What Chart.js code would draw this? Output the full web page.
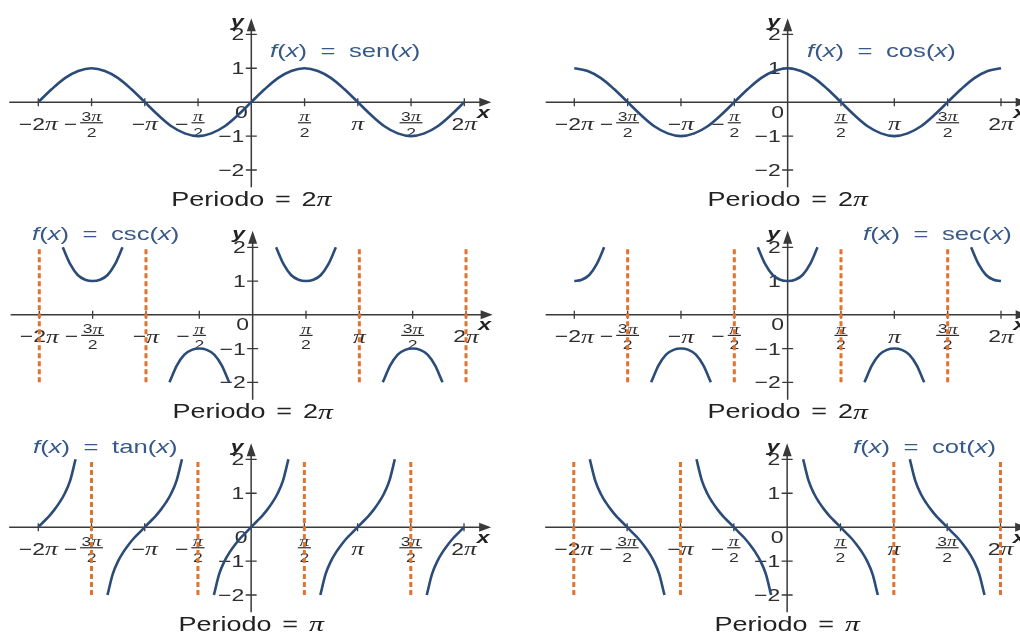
<!DOCTYPE html>
<html>
<head>
<meta charset="utf-8">
<script src="https://cdn.jsdelivr.net/npm/chart.js@4.4.1/dist/chart.umd.min.js"></script>
<style>
    html, body { margin: 0; padding: 0; background: #fff; }
    #wrap { position: relative; width: 1020px; height: 633px; overflow: hidden; }
    canvas { position: absolute; }
</style>
</head>
<body>
<div id="wrap">
    <canvas id="sinChart" width="510" height="211" style="left:0;top:0"></canvas>
    <canvas id="cosChart" width="510" height="211" style="left:510px;top:0"></canvas>
    <canvas id="cscChart" width="510" height="211" style="left:0;top:211px"></canvas>
    <canvas id="secChart" width="510" height="211" style="left:510px;top:211px"></canvas>
    <canvas id="tanChart" width="510" height="211" style="left:0;top:422px"></canvas>
    <canvas id="cotChart" width="510" height="211" style="left:510px;top:422px"></canvas>
</div>
<script>
// x values are given in multiples of pi
const xTickValues = [-2, -1.5, -1, -0.5, 0.5, 1, 1.5, 2];
const xTickLabels = ['−2π', '−3π/2', '−π', '−π/2', 'π/2', 'π', '3π/2', '2π'];
const yTickValues = [-2, -1, 1, 2];
const yTickLabels = ['−2', '−1', '1', '2'];

// sine / cosine, read every pi/8
const waveX = [-2, -1.875, -1.75, -1.625, -1.5, -1.375, -1.25, -1.125, -1, -0.875, -0.75, -0.625, -0.5, -0.375, -0.25, -0.125,
    0, 0.125, 0.25, 0.375, 0.5, 0.625, 0.75, 0.875, 1, 1.125, 1.25, 1.375, 1.5, 1.625, 1.75, 1.875, 2];
const sinY = [0, 0.38, 0.71, 0.92, 1, 0.92, 0.71, 0.38, 0, -0.38, -0.71, -0.92, -1, -0.92, -0.71, -0.38,
    0, 0.38, 0.71, 0.92, 1, 0.92, 0.71, 0.38, 0, -0.38, -0.71, -0.92, -1, -0.92, -0.71, -0.38, 0];
const cosY = [1, 0.92, 0.71, 0.38, 0, -0.38, -0.71, -0.92, -1, -0.92, -0.71, -0.38, 0, 0.38, 0.71, 0.92,
    1, 0.92, 0.71, 0.38, 0, -0.38, -0.71, -0.92, -1, -0.92, -0.71, -0.38, 0, 0.38, 0.71, 0.92, 1];

// cosecant branches (null = break)
const cscX = [-1.78, -1.71, -1.64, -1.57, -1.5, -1.43, -1.36, -1.29, -1.22, -1,
    -0.78, -0.71, -0.64, -0.57, -0.5, -0.43, -0.36, -0.29, -0.22, 0,
    0.22, 0.29, 0.36, 0.43, 0.5, 0.57, 0.64, 0.71, 0.78, 1,
    1.22, 1.29, 1.36, 1.43, 1.5, 1.57, 1.64, 1.71, 1.78];
const cscY = [2, 1.5, 1.18, 1.04, 1, 1.04, 1.18, 1.5, 2, null,
    -2, -1.5, -1.18, -1.04, -1, -1.04, -1.18, -1.5, -2, null,
    2, 1.5, 1.18, 1.04, 1, 1.04, 1.18, 1.5, 2, null,
    -2, -1.5, -1.18, -1.04, -1, -1.04, -1.18, -1.5, -2];
const cscAsym = [-2, -1, 1, 2];

// secant branches
const secX = [-2, -1.93, -1.86, -1.79, -1.72, -1.5,
    -1.28, -1.21, -1.14, -1.07, -1, -0.93, -0.86, -0.79, -0.72, -0.5,
    -0.28, -0.21, -0.14, -0.07, 0, 0.07, 0.14, 0.21, 0.28, 0.5,
    0.72, 0.79, 0.86, 0.93, 1, 1.07, 1.14, 1.21, 1.28, 1.5,
    1.72, 1.79, 1.86, 1.93, 2];
const secY = [1, 1.04, 1.18, 1.5, 2, null,
    -2, -1.5, -1.18, -1.04, -1, -1.04, -1.18, -1.5, -2, null,
    2, 1.5, 1.18, 1.04, 1, 1.04, 1.18, 1.5, 2, null,
    -2, -1.5, -1.18, -1.04, -1, -1.04, -1.18, -1.5, -2, null,
    2, 1.5, 1.18, 1.04, 1];
const secAsym = [-1.5, -0.5, 0.5, 1.5];

// tangent branches
const tanX = [-2, -1.95, -1.9, -1.85, -1.8, -1.75, -1.7, -1.65, -1.5,
    -1.35, -1.3, -1.25, -1.2, -1.15, -1.1, -1.05, -1, -0.95, -0.9, -0.85, -0.8, -0.75, -0.7, -0.65, -0.5,
    -0.35, -0.3, -0.25, -0.2, -0.15, -0.1, -0.05, 0, 0.05, 0.1, 0.15, 0.2, 0.25, 0.3, 0.35, 0.5,
    0.65, 0.7, 0.75, 0.8, 0.85, 0.9, 0.95, 1, 1.05, 1.1, 1.15, 1.2, 1.25, 1.3, 1.35, 1.5,
    1.65, 1.7, 1.75, 1.8, 1.85, 1.9, 1.95, 2];
const tanY = [0, 0.16, 0.32, 0.51, 0.73, 1, 1.38, 2, null,
    -2, -1.38, -1, -0.73, -0.51, -0.32, -0.16, 0, 0.16, 0.32, 0.51, 0.73, 1, 1.38, 2, null,
    -2, -1.38, -1, -0.73, -0.51, -0.32, -0.16, 0, 0.16, 0.32, 0.51, 0.73, 1, 1.38, 2, null,
    -2, -1.38, -1, -0.73, -0.51, -0.32, -0.16, 0, 0.16, 0.32, 0.51, 0.73, 1, 1.38, 2, null,
    -2, -1.38, -1, -0.73, -0.51, -0.32, -0.16, 0];
const tanAsym = [-1.5, -0.5, 0.5, 1.5];

// cotangent branches
const cotX = [-1.85, -1.8, -1.75, -1.7, -1.65, -1.6, -1.55, -1.5, -1.45, -1.4, -1.35, -1.3, -1.25, -1.2, -1.15, -1,
    -0.85, -0.8, -0.75, -0.7, -0.65, -0.6, -0.55, -0.5, -0.45, -0.4, -0.35, -0.3, -0.25, -0.2, -0.15, 0,
    0.15, 0.2, 0.25, 0.3, 0.35, 0.4, 0.45, 0.5, 0.55, 0.6, 0.65, 0.7, 0.75, 0.8, 0.85, 1,
    1.15, 1.2, 1.25, 1.3, 1.35, 1.4, 1.45, 1.5, 1.55, 1.6, 1.65, 1.7, 1.75, 1.8, 1.85];
const cotY = [2, 1.38, 1, 0.73, 0.51, 0.32, 0.16, 0, -0.16, -0.32, -0.51, -0.73, -1, -1.38, -2, null,
    2, 1.38, 1, 0.73, 0.51, 0.32, 0.16, 0, -0.16, -0.32, -0.51, -0.73, -1, -1.38, -2, null,
    2, 1.38, 1, 0.73, 0.51, 0.32, 0.16, 0, -0.16, -0.32, -0.51, -0.73, -1, -1.38, -2, null,
    2, 1.38, 1, 0.73, 0.51, 0.32, 0.16, 0, -0.16, -0.32, -0.51, -0.73, -1, -1.38, -2];
const cotAsym = [-2, -1, 1, 2];

const CURVE = '#2b4b78';
const ASYM = '#e2722e';
const AXIS = '#3a3a3a';
const TITLE = '#37598a';
const SX = 1.35; // the original artwork is stretched sideways

const SANS = '"Liberation Sans", Arial, sans-serif';
const SERIF = '"Liberation Serif", "Times New Roman", serif';

// split a label into plain runs and an italic pi
function runsOf(str, size) {
    return str.split(/(π)/).filter(Boolean).map(t =>
        [t, t === 'π' ? `italic ${size + 2}px ${SERIF}` : `${size}px ${SANS}`]);
}

function drawRuns(ctx, runs, x, y, align) {
    const widths = runs.map(r => {
        if (typeof r[0] === 'number') return r[0];
        ctx.font = r[1];
        return ctx.measureText(r[0]).width;
    });
    const total = widths.reduce((a, b) => a + b, 0) * SX;
    let cx = align === 'center' ? x - total / 2 : align === 'right' ? x - total : x;
    ctx.textAlign = 'left';
    ctx.textBaseline = 'middle';
    runs.forEach((r, i) => {
        if (typeof r[0] !== 'number') {
            ctx.save();
            ctx.translate(cx, y);
            ctx.scale(SX, 1);
            ctx.font = r[1];
            ctx.fillText(r[0], 0, 0);
            ctx.restore();
        }
        cx += widths[i] * SX;
    });
    return total;
}

function drawTickLabel(ctx, s, px, y0) {
    const frac = s.match(/^(−?)(\d*π)\/(\d)$/);
    if (!frac) {
        drawRuns(ctx, runsOf(s, 17), px, y0 + 23, 'center');
        return;
    }
    const w = drawRuns(ctx, runsOf(frac[2], 13), px, y0 + 15, 'center');
    const bw = w + 3;
    ctx.fillRect(px - bw / 2, y0 + 20, bw, 1.2);
    drawRuns(ctx, runsOf(frac[3], 13), px, y0 + 31, 'center');
    if (frac[1]) drawRuns(ctx, [['−', `17px ${SANS}`]], px - bw / 2 - 3, y0 + 23, 'right');
}

const trigAxes = {
    id: 'trigAxes',
    beforeDatasetsDraw(chart, args, o) {
        const { ctx, scales: { x, y } } = chart;
        const x0 = x.getPixelForValue(0);
        const y0 = y.getPixelForValue(0);
        ctx.save();
        ctx.strokeStyle = AXIS;
        ctx.fillStyle = AXIS;
        ctx.lineWidth = 1.5;

        // axes with arrow heads
        ctx.beginPath();
        ctx.moveTo(x0 - 242, y0);
        ctx.lineTo(x0 + 230, y0);
        ctx.moveTo(x0, y0 + 85);
        ctx.lineTo(x0, y0 - 73);
        ctx.stroke();
        ctx.beginPath();
        ctx.moveTo(x0 + 240, y0);
        ctx.lineTo(x0 + 228, y0 - 4.5);
        ctx.lineTo(x0 + 228, y0 + 4.5);
        ctx.closePath();
        ctx.moveTo(x0, y0 - 84);
        ctx.lineTo(x0 - 4.5, y0 - 71);
        ctx.lineTo(x0 + 4.5, y0 - 71);
        ctx.closePath();
        ctx.fill();

        // tick marks
        ctx.lineWidth = 1.3;
        ctx.beginPath();
        xTickValues.forEach(v => {
            const px = x.getPixelForValue(v);
            ctx.moveTo(px, y0 - 4);
            ctx.lineTo(px, y0 + 4);
        });
        yTickValues.forEach(v => {
            const py = y.getPixelForValue(v);
            ctx.moveTo(x0 - 5.5, py);
            ctx.lineTo(x0 + 5.5, py);
        });
        ctx.stroke();

        // tick labels
        ctx.fillStyle = '#2e2e2e';
        xTickValues.forEach((v, i) => drawTickLabel(ctx, xTickLabels[i], x.getPixelForValue(v), y0));
        yTickValues.forEach((v, i) =>
            drawRuns(ctx, runsOf(yTickLabels[i], 17), x0 - 7, y.getPixelForValue(v) + 1.5, 'right'));
        drawRuns(ctx, [['0', `17px ${SANS}`]], x0 - 10, y0 + 11, 'center');

        // axis names
        ctx.fillStyle = '#222';
        drawRuns(ctx, [['y', `italic bold 17px ${SANS}`]], x0 - 14, y0 - 80, 'center');
        drawRuns(ctx, [['x', `italic bold 17px ${SANS}`]], x0 + 232, y0 + 11, 'center');

        // function name
        const N = `19px ${SANS}`, I = `italic 19px ${SANS}`;
        ctx.fillStyle = TITLE;
        drawRuns(ctx, [['f', I], ['(', N], ['x', I], [')', N], [10], ['=', N], [10],
            [o.name + '(', N], ['x', I], [')', N]], o.titleX, o.titleY, 'left');

        // period
        const P = `20px ${SANS}`;
        ctx.fillStyle = '#222';
        const period = runsOf(o.period, 20);
        drawRuns(ctx, [['Periodo', P], [8], ['=', P], [8], ...period], x0, y0 + 98, 'center');
        ctx.restore();
    }
};

function toPoints(xs, ys) {
    return xs.map((x, i) => ({ x, y: ys[i] }));
}

function asymPoints(list) {
    const pts = [];
    list.forEach(a => pts.push({ x: a, y: -2 }, { x: a, y: 2 }, { x: a, y: null }));
    return pts;
}

function makeChart(id, pad, xs, ys, asym, opts) {
    const datasets = [{
        data: toPoints(xs, ys),
        borderColor: CURVE,
        borderWidth: 2.6,
        pointRadius: 0,
        cubicInterpolationMode: 'monotone',
        spanGaps: false,
        clip: false
    }];
    if (asym) {
        datasets.push({
            data: asymPoints(asym),
            borderColor: ASYM,
            borderWidth: 3,
            borderDash: [5, 3],
            pointRadius: 0,
            spanGaps: false,
            clip: false
        });
    }
    new Chart(document.getElementById(id), {
        type: 'line',
        data: { datasets },
        options: {
            responsive: false,
            animation: false,
            devicePixelRatio: 1,
            events: [],
            layout: { padding: pad },
            scales: {
                x: { type: 'linear', min: -2, max: 2, display: false },
                y: { type: 'linear', min: -2, max: 2, display: false }
            },
            plugins: {
                legend: { display: false },
                tooltip: { enabled: false },
                trigAxes: opts
            }
        },
        plugins: [trigAxes]
    });
}

makeChart('sinChart', { left: 38.3, right: 45.7, top: 34.3, bottom: 41 }, waveX, sinY, null,
    { name: 'sen', period: '2π', titleX: 270, titleY: 52 });
makeChart('cosChart', { left: 64.3, right: 19, top: 34.3, bottom: 41 }, waveX, cosY, null,
    { name: 'cos', period: '2π', titleX: 297, titleY: 52 });
makeChart('cscChart', { left: 39.3, right: 44, top: 36.3, bottom: 39.7 }, cscX, cscY, cscAsym,
    { name: 'csc', period: '2π', titleX: 32, titleY: 24 });
makeChart('secChart', { left: 64.3, right: 19, top: 36.3, bottom: 39.7 }, secX, secY, secAsym,
    { name: 'sec', period: '2π', titleX: 353, titleY: 24 });
makeChart('tanChart', { left: 38.3, right: 46, top: 37.3, bottom: 38 }, tanX, tanY, tanAsym,
    { name: 'tan', period: 'π', titleX: 33, titleY: 26 });
makeChart('cotChart', { left: 63.8, right: 19.5, top: 37.3, bottom: 38 }, cotX, cotY, cotAsym,
    { name: 'cot', period: 'π', titleX: 343, titleY: 26 });
</script>
</body>
</html>
